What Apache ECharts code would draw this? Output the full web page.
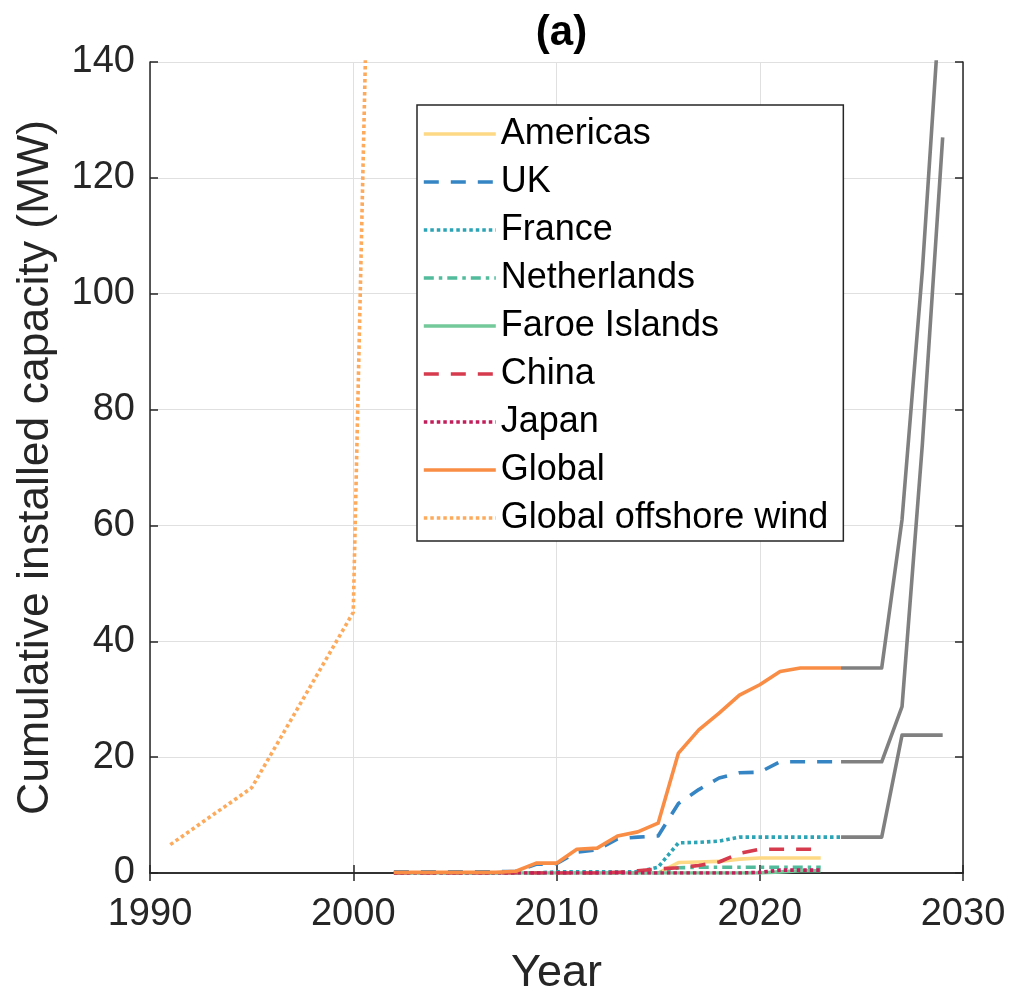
<!DOCTYPE html>
<html>
<head>
<meta charset="utf-8">
<script src="https://cdn.jsdelivr.net/npm/echarts@6/dist/echarts.min.js"></script>
<style>
  html, body { margin: 0; padding: 0; background: #fff; }
  #chart { width: 1014px; height: 993px; }
</style>
</head>
<body>
<div id="chart"></div>
<script>
// Cumulative installed capacity by region (MW)
const regionYears = [2002, 2003, 2004, 2005, 2006, 2007, 2008, 2009, 2010, 2011, 2012,
  2013, 2014, 2015, 2016, 2017, 2018, 2019, 2020, 2021, 2022, 2023, 2024];

const americasYears = [2015, 2016, 2017, 2018, 2019, 2020, 2021, 2022, 2023];
const americas = [0.0, 1.8, 1.9, 2.0, 2.4, 2.6, 2.6, 2.6, 2.6];

const uk = [0.2, 0.2, 0.2, 0.2, 0.2, 0.2, 0.3, 1.5, 1.6, 3.6, 4.0,
  5.9, 6.2, 6.4, 12.0, 14.4, 16.4, 17.3, 17.4, 19.2, 19.2, 19.2, 19.2];

const france = [0.0, 0.0, 0.0, 0.0, 0.0, 0.0, 0.0, 0.0, 0.2, 0.2, 0.2,
  0.2, 0.2, 1.0, 5.2, 5.3, 5.5, 6.2, 6.2, 6.2, 6.2, 6.2, 6.2];

const netherlands = [0, 0, 0, 0, 0, 0, 0, 0, 0, 0, 0,
  0, 0, 0, 0.9, 1.0, 1.0, 1.0, 1.0, 1.0, 1.0, 1.0];

const faroeIslands = [0, 0, 0, 0, 0, 0, 0, 0, 0, 0, 0,
  0, 0, 0, 0, 0, 0, 0, 0.0, 0.2, 0.4, 0.4];

const china = [0, 0, 0, 0, 0, 0, 0, 0, 0, 0, 0,
  0.1, 0.4, 0.7, 0.9, 1.3, 1.9, 3.4, 4.1, 4.1, 4.1, 4.1];

const japan = [0, 0, 0, 0, 0, 0, 0, 0, 0, 0, 0,
  0, 0, 0, 0, 0, 0, 0, 0.1, 0.5, 0.5, 0.5];

const globalTidal = [0.1, 0.1, 0.1, 0.1, 0.1, 0.1, 0.3, 1.7, 1.7, 4.1, 4.3,
  6.4, 7.1, 8.6, 20.7, 24.7, 27.6, 30.7, 32.5, 34.8, 35.4, 35.4, 35.4];

// Early offshore wind build-out, for comparison
const offshoreYears = [1991, 1995, 2000, 2001];
const offshoreWind = [4.9, 14.7, 45.0, 205.0];

// Pipeline projections continuing from 2024
const projYears = [2024, 2025, 2026, 2027, 2028, 2029];
const projGlobal = [35.4, 35.4, 35.4, 61.0, 104.0, 157.0];
const projUK = [19.2, 19.2, 19.2, 28.7, 74.0, 127.0];
const projFrance = [6.2, 6.2, 6.2, 23.8, 23.8, 23.8];

const xTicks = [1990, 2000, 2010, 2020, 2030];
const yTicks = [0, 20, 40, 60, 80, 100, 120, 140];

const pairs = (xs, ys) => ys.map((v, i) => [xs[i], v]);

const FONT = '"Liberation Sans", Arial, Helvetica, sans-serif';
const AXIS = '#262626';
const LW = 3.6;

function lineSeries(name, data, color, type, z) {
  return {
    name: name,
    type: 'line',
    data: data,
    showSymbol: false,
    symbol: 'none',
    clip: true,
    z: z,
    lineStyle: { color: color, width: LW, type: type, cap: 'butt', join: 'round' },
    itemStyle: { color: color },
    emphasis: { disabled: true }
  };
}

const chart = echarts.init(document.getElementById('chart'), null, { renderer: 'canvas' });

const legendNames = ['Americas', 'UK', 'France', 'Netherlands', 'Faroe Islands',
  'China', 'Japan', 'Global', 'Global offshore wind'];

const option = {
  animation: false,
  backgroundColor: '#ffffff',
  textStyle: { fontFamily: FONT },
  title: {
    text: '(a)',
    left: 556.5,
    textAlign: 'center',
    top: 7,
    textStyle: { fontFamily: FONT, fontSize: 42, fontWeight: 'bold', color: '#000' }
  },
  grid: { left: 150, right: 51, top: 62, bottom: 120, containLabel: false, outerBoundsMode: 'none' },
  legend: {
    data: legendNames,
    orient: 'vertical',
    left: 417,
    top: 105,
    padding: [9, 15, 3, 5],
    itemWidth: 72,
    itemHeight: 14,
    itemGap: 8,
    backgroundColor: '#ffffff',
    borderColor: AXIS,
    borderWidth: 1.5,
    borderRadius: 0,
    selectedMode: false,
    itemStyle: { opacity: 0 },
    lineStyle: { width: LW },
    textStyle: { fontFamily: FONT, fontSize: 36, color: '#000', lineHeight: 40 }
  },
  xAxis: [{
    type: 'value',
    min: 1990, max: 2030, interval: 10,
    name: 'Year',
    nameLocation: 'middle',
    nameGap: 78,
    nameTextStyle: { fontFamily: FONT, fontSize: 45, color: AXIS },
    axisLine: { show: true, lineStyle: { color: AXIS, width: 1.5 } },
    axisTick: { show: true, inside: true, length: 8, lineStyle: { color: AXIS, width: 1.5 } },
    axisLabel: {
      fontFamily: FONT, fontSize: 38, color: AXIS, margin: 23,
      formatter: v => (xTicks.indexOf(v) >= 0 ? String(v) : '')
    },
    splitLine: { show: true, lineStyle: { color: '#e0e0e0', width: 1 } }
  }, {
    type: 'value',
    position: 'top',
    min: 1990, max: 2030, interval: 10,
    axisLine: { show: true, lineStyle: { color: AXIS, width: 1.5 } },
    axisTick: { show: true, inside: true, length: 8, lineStyle: { color: AXIS, width: 1.5 } },
    axisLabel: { show: false },
    splitLine: { show: false }
  }],
  yAxis: [{
    type: 'value',
    min: 0, max: 140, interval: 20,
    name: 'Cumulative installed capacity (MW)',
    nameLocation: 'middle',
    nameGap: 92,
    nameTextStyle: { fontFamily: FONT, fontSize: 44.5, color: AXIS },
    axisLine: { show: true, lineStyle: { color: AXIS, width: 1.5 } },
    axisTick: { show: true, inside: true, length: 8, lineStyle: { color: AXIS, width: 1.5 } },
    axisLabel: {
      fontFamily: FONT, fontSize: 38, color: AXIS, margin: 15,
      formatter: v => (yTicks.indexOf(v) >= 0 ? String(v) : '')
    },
    splitLine: { show: true, lineStyle: { color: '#e0e0e0', width: 1 } }
  }, {
    type: 'value',
    position: 'right',
    min: 0, max: 140, interval: 20,
    axisLine: { show: true, lineStyle: { color: AXIS, width: 1.5 } },
    axisTick: { show: true, inside: true, length: 8, lineStyle: { color: AXIS, width: 1.5 } },
    axisLabel: { show: false },
    splitLine: { show: false }
  }],
  series: [
    lineSeries('Americas', pairs(americasYears, americas), '#fed985', 'solid', 2),
    lineSeries('UK', pairs(regionYears, uk), '#3584c4', [15, 12], 3),
    lineSeries('France', pairs(regionYears, france), '#2ba4b6', [3.5, 3], 4),
    lineSeries('Netherlands', pairs(regionYears, netherlands), '#52bb9b', [10, 5, 3.5, 5], 5),
    lineSeries('Faroe Islands', pairs(regionYears, faroeIslands), '#74c99a', 'solid', 6),
    lineSeries('China', pairs(regionYears, china), '#d63a4d', [15, 12], 7),
    lineSeries('Japan', pairs(regionYears, japan), '#c21e5a', [3.5, 3], 8),
    lineSeries('Global', pairs(regionYears, globalTidal), '#f98d45', 'solid', 9),
    lineSeries('Global offshore wind', pairs(offshoreYears, offshoreWind), '#fdaa5c', [3.5, 3], 10),
    lineSeries('Global projection', pairs(projYears, projGlobal), '#808080', 'solid', 11),
    lineSeries('UK projection', pairs(projYears, projUK), '#808080', 'solid', 11),
    lineSeries('France projection', pairs(projYears, projFrance), '#808080', 'solid', 11)
  ]
};

chart.setOption(option);
</script>
</body>
</html>
